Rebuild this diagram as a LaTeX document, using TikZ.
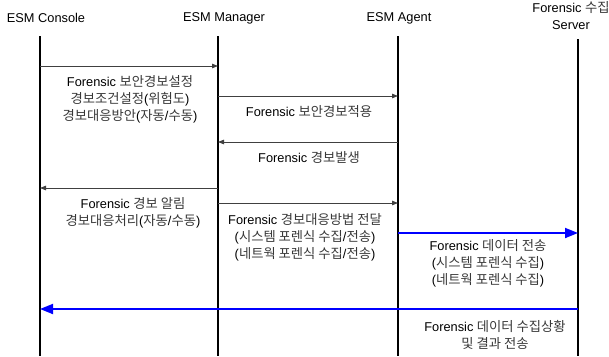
\documentclass[tikz,border=0pt]{standalone}
\usepackage{fontspec}
\setmainfont{Liberation Sans}
\newfontfamily\kr[Scale=1.04]{Noto Sans CJK KR}
\usetikzlibrary{arrows.meta}
\newcommand\K[1]{{\kr\color{black!78}#1}}
\begin{document}
\begin{tikzpicture}[x=1pt,y=-1pt,
  every node/.style={font=\fontsize{12.8}{17}\selectfont, inner sep=0pt, align=center},
  lifeline/.style={line width=1.6pt, black},
  msg/.style={line width=0.8pt, black!75, -{Triangle[length=6pt,width=4.5pt]}},
  bluemsg/.style={line width=1.8pt, blue, -{Triangle[length=13pt,width=10pt]}}]
\useasboundingbox (0,0) rectangle (609,356);
% headers
\node (hc) at (46,18) {ESM Console};
\node (hm) at (224,18) {ESM Manager};
\node (ha) at (399,18) {ESM Agent};
\node (hs) at (571,16) {Forensic \K{수집}\\Server};
% lifeline ends
\coordinate (c0) at (40,36);  \coordinate (c1) at (40,356);
\coordinate (m0) at (218,36); \coordinate (m1) at (218,356);
\coordinate (a0) at (398,36); \coordinate (a1) at (398,356);
\coordinate (s0) at (578,39); \coordinate (s1) at (578,356);
\draw[lifeline] (c0) -- (c1);
\draw[lifeline] (m0) -- (m1);
\draw[lifeline] (a0) -- (a1);
\draw[lifeline] (s0) -- (s1);
% message points
\coordinate (p1a) at (40,66);   \coordinate (p1b) at (218,66);
\coordinate (p2a) at (218,96);  \coordinate (p2b) at (398,96);
\coordinate (p3a) at (398,142); \coordinate (p3b) at (218,142);
\coordinate (p4a) at (218,188); \coordinate (p4b) at (40,188);
\coordinate (p5a) at (218,203); \coordinate (p5b) at (398,203);
\coordinate (p6a) at (398,233); \coordinate (p6b) at (578,233);
\coordinate (p7a) at (578,309); \coordinate (p7b) at (40,309);
\draw[msg] (p1a) -- (p1b);
\draw[msg] (p2a) -- (p2b);
\draw[msg] (p3a) -- (p3b);
\draw[msg] (p4a) -- (p4b);
\draw[msg] (p5a) -- (p5b);
\draw[bluemsg] (p6a) -- (p6b);
\draw[bluemsg] (p7a) -- (p7b);
% labels
\node (t1) at (130,99) {Forensic \K{보안경보설정}\\\K{경보조건설정}(\K{위험도})\\\K{경보대응방안}(\K{자동}/\K{수동})};
\node (t2) at (309,112) {Forensic \K{보안경보적용}};
\node (t3) at (309,157) {Forensic \K{경보발생}};
\node (t4) at (133,213) {Forensic \K{경보 알림}\\\K{경보대응처리}(\K{자동}/\K{수동})};
\node (t5) at (305,237) {Forensic \K{경보대응방법 전달}\\(\K{시스템 포렌식 수집}/\K{전송})\\(\K{네트웍 포렌식 수집}/\K{전송})};
\node (t6) at (488,263) {Forensic \K{데이터 전송}\\(\K{시스템 포렌식 수집})\\(\K{네트웍 포렌식 수집})};
\node (t7) at (495,335) {Forensic \K{데이터 수집상황}\\\K{및 결과 전송}};
\end{tikzpicture}
\end{document}
